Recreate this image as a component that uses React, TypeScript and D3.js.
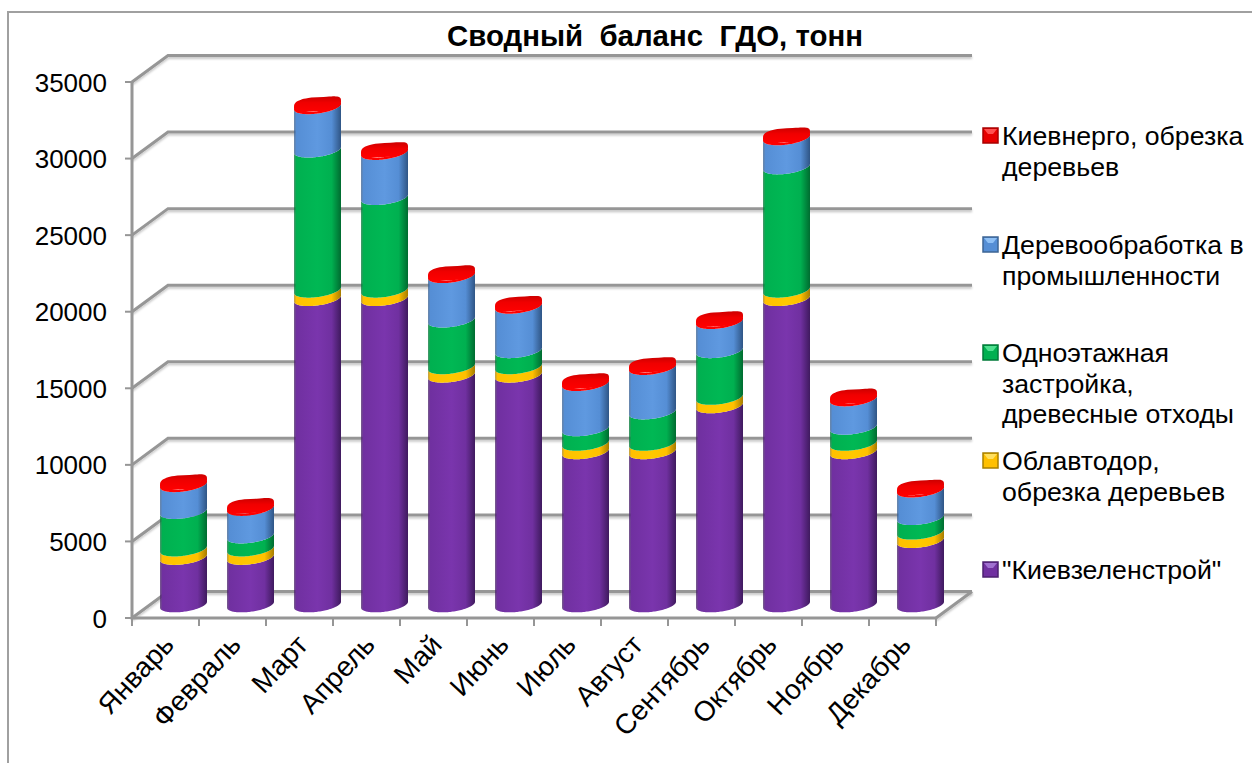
import React from "react";
import * as d3 from "d3";

const months = ["Январь","Февраль","Март","Апрель","Май","Июнь","Июль","Август","Сентябрь","Октябрь","Ноябрь","Декабрь"];
const kievzelenstroy = [3100,3100,20000,20000,15000,15000,10000,10000,13000,20000,10000,4200];
const oblavtodor = [550,550,550,550,550,550,550,550,550,550,550,550];
const odnoetazhnaya = [2450,850,9150,6050,3050,1050,950,2050,3050,8050,1050,950];
const derevoobrabotka = [1750,1800,2830,2940,2900,2900,2950,2900,1900,1900,1850,1800];
const kievenergo = [150,150,150,150,150,150,150,150,150,150,150,150];
const yTicks = [0,5000,10000,15000,20000,25000,30000,35000];

const seriesValues = [kievzelenstroy, oblavtodor, odnoetazhnaya, derevoobrabotka, kievenergo];
const seriesColors = ["#7030a0","#ffc000","#00b050","#558ed5","#ff0000"];
const seriesLight = ["#7a35ad","#ffc800","#00b854","#5f99e0","#ff0000"];
const seriesDark = ["#3f1a5e","#a67c00","#006b30","#2f5585","#b00000"];

const legendEntries = [
  { lines: ["Киевнерго, обрезка","деревьев"], color: "#e60000", dark:"#a80000", light:"#ff5050", y: 136 },
  { lines: ["Деревообработка в","промышленности"], color: "#558ed5", dark:"#3c6494", light:"#8fc0f5", y: 245 },
  { lines: ["Одноэтажная","застройка,","древесные отходы"], color: "#00b050", dark:"#007a38", light:"#50e090", y: 353 },
  { lines: ["Облавтодор,","обрезка деревьев"], color: "#ffc000", dark:"#a88000", light:"#ffe060", y: 461 },
  { lines: ["\"Киевзеленстрой\""], color: "#7030a0", dark:"#4c2070", light:"#a070d0", y: 570 },
];

const FONT = "'Liberation Sans', Arial, sans-serif";
const DX = 36, DY = -26.5;

export default function App() {
  const y = d3.scaleLinear().domain([0,35000]).range([618,82]);
  const x = d3.scaleBand<string>().domain(months).range([132,936]);
  const cylW = 47, a = cylW/2, b = 7, shear = 3;
  const midDx = DX/2, midDy = DY/2;

  // Rim of a sheared, slightly squared-off ellipse, sampled through a d3 line.
  const rim = (cx:number, cy:number, from:number, to:number, p = 1) =>
    d3.range(0,61).map(i => {
      const t = from + (to-from)*i/60;
      const c = Math.cos(t), s = Math.sin(t);
      const cp = Math.sign(c)*Math.pow(Math.abs(c),p);
      const sp = Math.sign(s)*Math.pow(Math.abs(s),p);
      return [cx + a*cp, cy + b*sp - shear*c] as [number,number];
    });
  const line = d3.line();

  const cylinders = months.map((m,i) => {
    const cx = (x(m) as number) + x.bandwidth()/2 + midDx;
    let acc = 0;
    const parts = seriesValues.map((vals,s) => {
      const v0 = acc; acc += vals[i];
      const y0 = y(v0) + midDy, y1 = y(acc) + midDy;
      const d = line([...rim(cx,y0,Math.PI,0), ...rim(cx,y1,0,Math.PI)]) + "Z";
      return <path key={s} d={d} fill={`url(#cyl${s})`} />;
    });
    const topY = y(acc) + midDy;
    const top = line(rim(cx,topY,0,2*Math.PI,0.6)) + "Z";
    return <g key={m}>{parts}<path d={top} fill="url(#capRed)" /></g>;
  });

  return (
    <svg width={1252} height={763} style={{position:"absolute",left:0,top:0,background:"#fff"}} fontFamily={FONT}>
      <defs>
        {seriesColors.map((c,s) => (
          <linearGradient key={s} id={`cyl${s}`} x1="0" x2="1" y1="0" y2="0">
            <stop offset="0" stopColor={seriesDark[s]} stopOpacity={0.7} />
            <stop offset="0.05" stopColor={c} />
            <stop offset="0.5" stopColor={seriesLight[s]} />
            <stop offset="0.8" stopColor={c} />
            <stop offset="1" stopColor={seriesDark[s]} />
          </linearGradient>
        ))}
        <linearGradient id="capRed" x1="0" x2="0" y1="0" y2="1">
          <stop offset="0" stopColor="#cc0000" />
          <stop offset="0.4" stopColor="#f00000" />
          <stop offset="1" stopColor="#ff0000" />
        </linearGradient>
        <filter id="gridShadow" x="-5%" y="-200%" width="110%" height="500%">
          <feDropShadow dx="0" dy="2" stdDeviation="1.2" floodColor="#000" floodOpacity="0.22" />
        </filter>
      </defs>

      <path d="M8 763V12H1252" fill="none" stroke="#a0a0a0" strokeWidth={2} />

      <text x={655} y={46} textAnchor="middle" fontSize={29.4} fontWeight="bold" xmlSpace="preserve">Сводный  баланс  ГДО, тонн</text>

      {/* back wall gridlines, side wall slants and floor */}
      <g fill="none" stroke="#969696" strokeWidth={3} >
        {yTicks.map(t => (
          <path key={t} d={line([[132,y(t)],[132+DX,y(t)+DY],[936+DX,y(t)+DY]]) as string} filter="url(#gridShadow)" />
        ))}
        <path d={line([[936,y(0)],[936+DX,y(0)+DY]]) as string} filter="url(#gridShadow)" />
        <path d={line([[132,y(35000)],[132,y(0)],[936,y(0)]]) as string} />
      </g>
      <g stroke="#969696" strokeWidth={2}>
        {yTicks.map(t => <line key={t} x1={125} x2={132} y1={y(t)} y2={y(t)} />)}
        {d3.range(0,13).map(i => {
          const tx = 132 + i*x.step();
          return <line key={i} x1={tx} x2={tx} y1={618} y2={626} />;
        })}
      </g>

      {yTicks.map(t => (
        <text key={t} x={107} y={y(t)+9.5} textAnchor="end" fontSize={26}>{t}</text>
      ))}

      {cylinders}

      {months.map(m => {
        const tx = (x(m) as number) + x.bandwidth()/2 + 10;
        return <text key={m} transform={`translate(${tx},646) rotate(-47)`} textAnchor="end" fontSize={28}>{m}</text>;
      })}

      {legendEntries.map(e => (
        <g key={e.y}>
          <rect x={983} y={e.y-8} width={15} height={15} fill={e.color} stroke={e.dark} strokeWidth={1.5} />
          <path d={`M984 ${e.y-7}h13l-4 5h-5z`} fill={e.light} />
          {e.lines.map((l,i) => (
            <text key={i} x={1002} y={e.y+9+i*30.5} fontSize={26.7}>{l}</text>
          ))}
        </g>
      ))}
    </svg>
  );
}
